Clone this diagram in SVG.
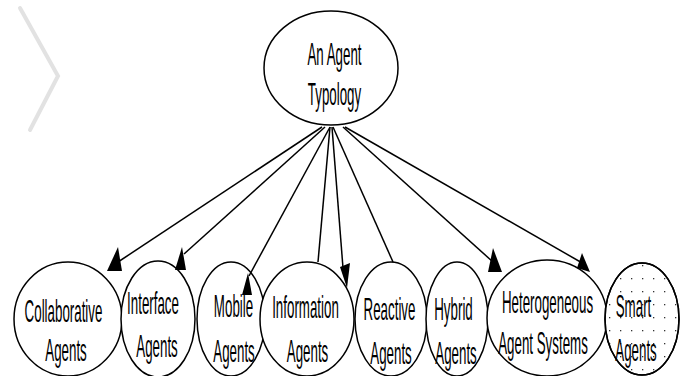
<svg xmlns="http://www.w3.org/2000/svg" width="686" height="376" viewBox="0 0 686 376">
<defs>
<pattern id="dots" x="0" y="0" width="11" height="13" patternUnits="userSpaceOnUse">
<rect x="4" y="5" width="1.3" height="1.3" fill="#333"/>
</pattern>
<style>
.node ellipse{fill:#fff;stroke:#000;stroke-width:1.5}
.node text{font-family:"Liberation Sans",Arial,sans-serif;font-size:31px;fill:#000;text-anchor:middle}
.edge{stroke:#000;stroke-width:1.5;fill:none}
.head{fill:#000;stroke:none}
.wm{stroke:#e2e2e2;stroke-width:4;fill:none;stroke-linecap:round}
</style>
</defs>
<rect width="686" height="376" fill="#fff"/>
<path class="wm" d="M20 8 L58 76 L30 130"/>
<g id="root" class="node">
<ellipse cx="331" cy="68" rx="67" ry="57"/>
<text transform="translate(334.5,65) scale(0.43,1)">An Agent</text>
<text transform="translate(334.5,105) scale(0.43,1)">Typology</text>
</g>
<g id="collaborative" class="node">
<ellipse cx="68" cy="319" rx="54" ry="57"/>
<text transform="translate(63.5,322) scale(0.43,1)">Collaborative</text>
<text transform="translate(66,361) scale(0.43,1)">Agents</text>
</g>
<g id="interface" class="node">
<ellipse cx="158" cy="319" rx="37" ry="58"/>
<text transform="translate(153,314) scale(0.43,1)">Interface</text>
<text transform="translate(157,357) scale(0.43,1)">Agents</text>
</g>
<g id="mobile" class="node">
<ellipse cx="231" cy="319" rx="34" ry="57"/>
<text transform="translate(233.5,317) scale(0.43,1)">Mobile</text>
<text transform="translate(234,362) scale(0.43,1)">Agents</text>
</g>
<g id="information" class="node">
<ellipse cx="307" cy="319" rx="47" ry="57"/>
<text transform="translate(305.5,318) scale(0.43,1)">Information</text>
<text transform="translate(307.5,362) scale(0.43,1)">Agents</text>
</g>
<g id="reactive" class="node">
<ellipse cx="391" cy="319" rx="36" ry="57"/>
<text transform="translate(389.5,320) scale(0.43,1)">Reactive</text>
<text transform="translate(391,364) scale(0.43,1)">Agents</text>
</g>
<g id="hybrid" class="node">
<ellipse cx="457" cy="319" rx="31" ry="57"/>
<text transform="translate(453.5,320) scale(0.43,1)">Hybrid</text>
<text transform="translate(456,364) scale(0.43,1)">Agents</text>
</g>
<g id="heterogeneous" class="node">
<ellipse cx="547" cy="318" rx="60" ry="58"/>
<text transform="translate(547.5,313) scale(0.43,1)">Heterogeneous</text>
<text transform="translate(543,354) scale(0.43,1)">Agent Systems</text>
</g>
<g id="smart" class="node">
<ellipse cx="642" cy="319" rx="37" ry="56"/>
<ellipse cx="642" cy="319" rx="37" ry="56" style="fill:url(#dots)"/>
<text transform="translate(633.5,317) scale(0.43,1)">Smart</text>
<text transform="translate(636,361) scale(0.43,1)">Agents</text>
</g>
<g id="connectors">
<line class="edge" x1="322" y1="127" x2="118" y2="262"/>
<polygon class="head" points="118,247 107,271 122,271"/>
<line class="edge" x1="325" y1="127" x2="184" y2="254"/>
<polygon class="head" points="182,247 175,270 186,270"/>
<line class="edge" x1="330" y1="127" x2="249" y2="276"/>
<polygon class="head" points="248,273 242,295 252,295"/>
<line class="edge" x1="330" y1="127" x2="318" y2="262"/>
<line class="edge" x1="332" y1="127" x2="343" y2="268"/>
<polygon class="head" points="340,267 350,263 347,288"/>
<line class="edge" x1="333" y1="127" x2="393" y2="262"/>
<line class="edge" x1="343" y1="127" x2="493" y2="262"/>
<polygon class="head" points="493,248 488,272 502,272"/>
<line class="edge" x1="345" y1="127" x2="584" y2="264"/>
<polygon class="head" points="582,253 577,268 590,272"/>
</g>
</svg>
